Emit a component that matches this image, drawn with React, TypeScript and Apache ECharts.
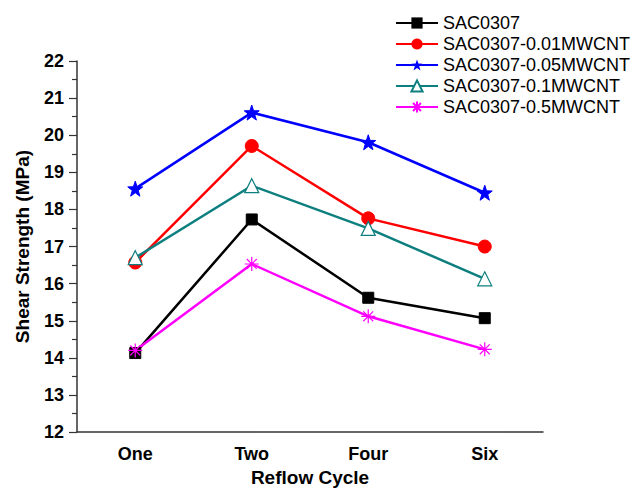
import React, { useEffect, useRef } from "react";
import * as echarts from "echarts";

const categories = ["One", "Two", "Four", "Six"];
const seriesNames = [
  "SAC0307",
  "SAC0307-0.01MWCNT",
  "SAC0307-0.05MWCNT",
  "SAC0307-0.1MWCNT",
  "SAC0307-0.5MWCNT",
];
const sac0307 = [14.13, 17.73, 15.62, 15.07];
const sac001 = [16.57, 19.71, 17.76, 17.0];
const sac005 = [18.56, 20.61, 19.81, 18.45];
const sac01 = [16.7, 18.64, 17.49, 16.13];
const sac05 = [14.2, 16.53, 15.12, 14.23];

const STAR =
  "path://M0,-10 L2.35,-3.24 L9.51,-3.09 L3.8,1.24 L5.88,8.09 L0,4 L-5.88,8.09 L-3.8,1.24 L-9.51,-3.09 L-2.35,-3.24 Z";
const ASTER =
  "path://M0,-10 L0,10 M-10,0 L10,0 M-7.07,-7.07 L7.07,7.07 M-7.07,7.07 L7.07,-7.07";

export default function App() {
  const ref = useRef<HTMLDivElement>(null);
  useEffect(() => {
    if (!ref.current) return;
    const chart = echarts.init(ref.current, undefined, { renderer: "svg" });
    const font = "Liberation Sans, Arial, sans-serif";
    const mk = (
      name: string,
      data: number[],
      color: string,
      symbol: string,
      size: number,
      item: any = {}
    ) => ({
      name,
      type: "line",
      data,
      symbol,
      symbolSize: size,
      showAllSymbol: true,
      lineStyle: { color, width: 2.5 },
      itemStyle: { color, borderColor: color, ...item },
      emphasis: { disabled: true },
    });
    chart.setOption({
      animation: false,
      backgroundColor: "#fff",
      grid: { left: 77, right: 92, top: 61, bottom: 55 },
      legend: {
        orient: "vertical",
        left: 390,
        top: 9,
        itemWidth: 42,
        itemHeight: 14,
        itemGap: 3,
        textStyle: { fontFamily: font, fontSize: 18, color: "#000" },
        data: seriesNames,
      },
      xAxis: {
        type: "category",
        data: categories,
        boundaryGap: true,
        name: "Reflow Cycle",
        nameLocation: "middle",
        nameGap: 35,
        nameTextStyle: { fontFamily: font, fontSize: 19, fontWeight: "bold", color: "#000" },
        axisLine: { lineStyle: { color: "#333", width: 1.5 } },
        axisTick: { alignWithLabel: true, length: 7, lineStyle: { color: "#333", width: 1.2 } },
        axisLabel: { fontFamily: font, fontSize: 18, fontWeight: "bold", color: "#000", margin: 13 },
        splitLine: { show: false },
      },
      yAxis: {
        type: "value",
        min: 12,
        max: 22,
        interval: 1,
        name: "Shear Strength (MPa)",
        nameLocation: "middle",
        nameGap: 45,
        nameTextStyle: { fontFamily: font, fontSize: 19, fontWeight: "bold", color: "#000" },
        axisLine: { show: true, lineStyle: { color: "#333", width: 1.5 } },
        axisTick: { show: true, length: 8, lineStyle: { color: "#333", width: 1.2 } },
        minorTick: { show: true, splitNumber: 2, length: 5, lineStyle: { color: "#333", width: 1.2 } },
        axisLabel: { fontFamily: font, fontSize: 18, fontWeight: "bold", color: "#000", margin: 13 },
        splitLine: { show: false },
      },
      series: [
        mk(seriesNames[0], sac0307, "#000000", "rect", 11),
        mk(seriesNames[1], sac001, "#ff0000", "circle", 13),
        mk(seriesNames[2], sac005, "#0000ff", STAR, 15),
        mk(seriesNames[3], sac01, "#0e7f7f", "triangle", 14, {
          color: "#ffffff",
          borderColor: "#0e7f7f",
          borderWidth: 1.2,
        }),
        mk(seriesNames[4], sac05, "#ff00ff", ASTER, 14, {
          color: "#ff00ff",
          borderColor: "#ff00ff",
          borderWidth: 1.2,
        }),
      ],
    });
    return () => chart.dispose();
  }, []);
  return (
    <div
      ref={ref}
      style={{ position: "absolute", left: 0, top: 0, width: 635, height: 492 }}
    />
  );
}
